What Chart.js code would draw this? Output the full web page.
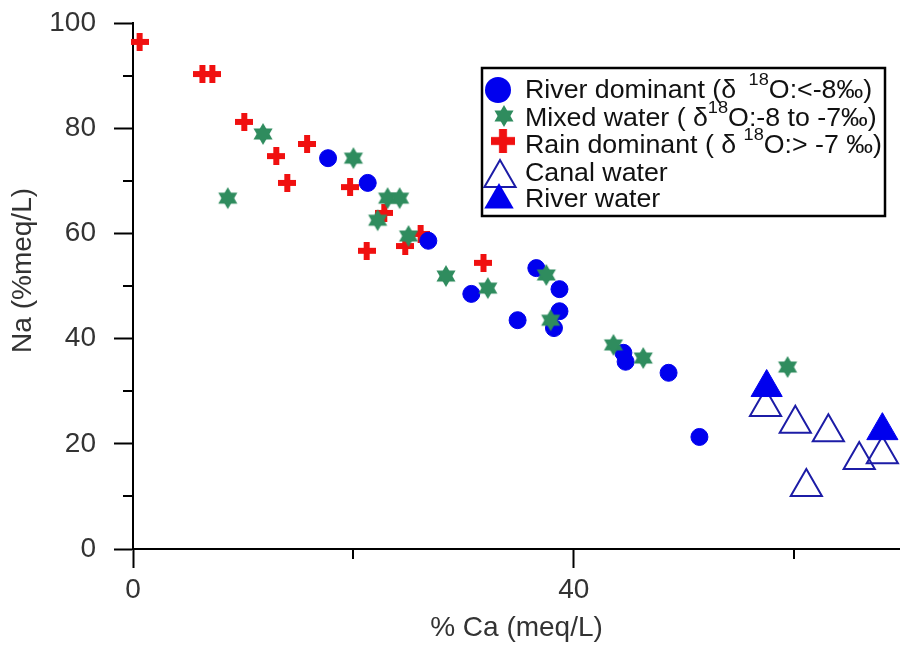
<!DOCTYPE html>
<html>
<head>
<meta charset="utf-8">
<title>Na vs Ca</title>
<script src="https://cdn.jsdelivr.net/npm/chart.js@4.4.1/dist/chart.umd.min.js"></script>
<style>
  html, body { margin: 0; padding: 0; background: #fff; }
  #wrap { width: 900px; height: 647px; }
</style>
</head>
<body>
<div id="wrap"><canvas id="myChart" width="900" height="647"></canvas></div>
<script>
//////////////// DATA /////////////////////////////////
// River dominant (d18O < -8 permil)
var riverDomX = [17.7, 21.3, 26.8, 30.7, 34.9, 36.6, 38.7, 38.7, 38.2, 44.5, 44.7, 48.6, 51.4];
var riverDomY = [74.3, 69.6, 58.6, 48.5, 43.5, 53.4, 49.4, 45.2, 42.0, 37.3, 35.6, 33.5, 21.3];

// Mixed water (d18O -8 to -7 permil)
var mixedX = [8.6, 11.8, 20.0, 23.1, 24.2, 22.2, 25.0, 28.4, 32.2, 37.5, 37.9, 43.6, 46.3, 59.4];
var mixedY = [66.7, 78.9, 74.3, 66.7, 66.7, 62.5, 59.5, 51.9, 49.6, 52.1, 43.5, 38.8, 36.3, 34.6];

// Rain dominant (d18O > -7 permil)
var rainX = [0.6, 6.3, 7.2, 10.1, 13.0, 15.8, 14.0, 19.7, 21.2, 22.8, 24.7, 26.1, 31.8];
var rainY = [96.4, 90.3, 90.3, 81.2, 74.7, 77.0, 69.6, 68.8, 56.7, 63.9, 57.6, 59.9, 54.4];

// Canal water
var canalX = [57.4, 60.1, 63.1, 65.9, 68.0, 61.1];
var canalY = [27.0, 23.8, 22.2, 16.9, 18.0, 11.8];

// River water
var riverWX = [57.5, 68.0];
var riverWY = [30.7, 22.5];

// axis ticks
var xMajor = [0, 40];
var xMinor = [20, 60];
var yMajor = [0, 20, 40, 60, 80, 100];
var yMinor = [10, 30, 50, 70, 90];

var legendLines = [
  [['River dominant (\u03b4 ', 0], [' 18', 1], ['O:<-8\u2030)', 0]],
  [['Mixed water ( \u03b4', 0], ['18', 1], ['O:-8 to -7\u2030)', 0]],
  [['Rain dominant ( \u03b4 ', 0], ['18', 1], ['O:> -7 \u2030)', 0]],
  [['Canal water', 0]],
  [['River water', 0]]
];

//////////////// MARKERS /////////////////////////////////
var BLUE = '#0000ee';
var NAVY = '#1c1ca6';
var GREEN = '#2f8c5e';
var RED = '#f01010';

function toPts(xs, ys) {
  return xs.map(function (x, i) { return {x: x, y: ys[i]}; });
}

// six pointed star (two triangles)
function makeStar(r) {
  var c = document.createElement('canvas');
  c.width = c.height = Math.ceil(r * 2 + 2);
  var g = c.getContext('2d');
  var cx = c.width / 2, cy = c.height / 2;
  g.fillStyle = GREEN;
  [0, Math.PI].forEach(function (off) {
    g.beginPath();
    for (var k = 0; k < 3; k++) {
      var a = off + k * 2 * Math.PI / 3;
      var px = cx + Math.sin(a) * r, py = cy - Math.cos(a) * r;
      if (k === 0) g.moveTo(px, py); else g.lineTo(px, py);
    }
    g.closePath();
    g.fill();
  });
  return c;
}

// thick plus sign
function makePlus(size, arm) {
  var c = document.createElement('canvas');
  c.width = c.height = size;
  var g = c.getContext('2d');
  g.fillStyle = RED;
  var o = (size - arm) / 2;
  g.fillRect(o, 0, arm, size);
  g.fillRect(0, o, size, arm);
  return c;
}

var starImg = makeStar(11);
var plusImg = makePlus(18, 6);

//////////////// PLUGINS /////////////////////////////////
var minorTicks = {
  id: 'minorTicks',
  afterDraw: function (chart) {
    var ctx = chart.ctx, x = chart.scales.x, y = chart.scales.y;
    ctx.save();
    ctx.strokeStyle = '#000';
    ctx.lineWidth = 2;
    ctx.beginPath();
    xMinor.forEach(function (v) {
      var px = Math.round(x.getPixelForValue(v));
      ctx.moveTo(px, x.top);
      ctx.lineTo(px, x.top + 10);
    });
    yMinor.forEach(function (v) {
      var py = Math.round(y.getPixelForValue(v));
      ctx.moveTo(y.right - 10, py);
      ctx.lineTo(y.right, py);
    });
    ctx.stroke();
    ctx.restore();
  }
};

function triPath(ctx, cx, cy, r) {
  ctx.beginPath();
  for (var k = 0; k < 3; k++) {
    var a = k * 2 * Math.PI / 3;
    var px = cx + Math.sin(a) * r, py = cy - Math.cos(a) * r;
    if (k === 0) ctx.moveTo(px, py); else ctx.lineTo(px, py);
  }
  ctx.closePath();
}

var boxLegend = {
  id: 'boxLegend',
  afterDraw: function (chart) {
    var ctx = chart.ctx;
    ctx.save();
    // frame
    ctx.fillStyle = '#fff';
    ctx.fillRect(482, 68, 403, 148);
    ctx.strokeStyle = '#000';
    ctx.lineWidth = 2.5;
    ctx.strokeRect(482, 68, 403, 148);

    // symbols
    ctx.fillStyle = BLUE;
    ctx.beginPath();
    ctx.arc(498, 90, 13, 0, Math.PI * 2);
    ctx.fill();
    ctx.drawImage(starImg, 504 - 12, 116 - 12, 24, 24);
    ctx.drawImage(plusImg, 503 - 12, 141 - 12, 24, 24);
    triPath(ctx, 500, 178, 18);
    ctx.strokeStyle = NAVY;
    ctx.lineWidth = 2;
    ctx.stroke();
    triPath(ctx, 499, 200, 17);
    ctx.fillStyle = BLUE;
    ctx.fill();

    // texts
    var baselines = [98, 126, 153, 181, 207];
    ctx.fillStyle = '#111';
    ctx.textBaseline = 'alphabetic';
    ctx.textAlign = 'left';
    legendLines.forEach(function (parts, i) {
      var cx = 525;
      parts.forEach(function (p) {
        ctx.font = p[1] ? '17px "Liberation Sans"' : '25px "Liberation Sans"';
        var yy = p[1] ? baselines[i] - 13 : baselines[i];
        ctx.save();
        ctx.translate(cx, yy);
        ctx.scale(1.07, 1);
        ctx.fillText(p[0], 0, 0);
        ctx.restore();
        cx += ctx.measureText(p[0]).width * 1.07;
      });
    });
    ctx.restore();
  }
};

// no automatic label overflow padding, the layout padding does it
function noPad(s) {
  s.paddingTop = 0;
  s.paddingBottom = 0;
  s.paddingLeft = 0;
  s.paddingRight = 0;
}

//////////////// CHART /////////////////////////////////
Chart.defaults.font.family = '"Liberation Sans", Arial, sans-serif';

var ctx = document.getElementById('myChart').getContext('2d');
var chart = new Chart(ctx, {
  type: 'scatter',
  data: {
    datasets: [
      {
        label: 'Mixed water',
        data: toPts(mixedX, mixedY),
        pointStyle: starImg,
        pointRadius: 10,
        order: 1,
        clip: false
      },
      {
        label: 'River dominant',
        data: toPts(riverDomX, riverDomY),
        pointStyle: 'circle',
        pointRadius: 8.5,
        backgroundColor: BLUE,
        borderColor: BLUE,
        borderWidth: 1,
        order: 2,
        clip: false
      },
      {
        label: 'Rain dominant',
        data: toPts(rainX, rainY),
        pointStyle: plusImg,
        pointRadius: 9,
        order: 3,
        clip: false
      },
      {
        label: 'River water',
        data: toPts(riverWX, riverWY),
        pointStyle: 'triangle',
        pointRadius: 18,
        backgroundColor: BLUE,
        borderColor: BLUE,
        borderWidth: 1,
        order: 4,
        clip: false
      },
      {
        label: 'Canal water',
        data: toPts(canalX, canalY),
        pointStyle: 'triangle',
        pointRadius: 18,
        backgroundColor: 'rgba(0,0,0,0)',
        borderColor: NAVY,
        borderWidth: 2,
        order: 5,
        clip: false
      }
    ]
  },
  options: {
    responsive: false,
    animation: false,
    devicePixelRatio: 1,
    layout: { autoPadding: false, padding: { top: 23, right: 0, bottom: 0, left: 0 } },
    plugins: {
      legend: { display: false },
      tooltip: { enabled: false }
    },
    scales: {
      x: {
        type: 'linear',
        min: 0,
        max: 69.6,
        afterFit: function (s) { s.height = 98; noPad(s); },
        afterBuildTicks: function (s) { s.ticks = xMajor.map(function (v) { return {value: v}; }); },
        ticks: {
          includeBounds: false,
          color: '#333',
          padding: 5,
          font: { size: 28 }
        },
        grid: { drawOnChartArea: false, tickLength: 19, tickColor: '#000', tickWidth: 2 },
        border: { color: '#000', width: 2 },
        title: {
          display: true,
          text: '% Ca (meq/L)',
          color: '#333',
          font: { size: 28 },
          padding: { top: 0, bottom: 2 }
        }
      },
      y: {
        min: 0,
        max: 100,
        afterFit: function (s) { s.width = 133; noPad(s); },
        afterBuildTicks: function (s) { s.ticks = yMajor.map(function (v) { return {value: v}; }); },
        ticks: {
          color: '#333',
          padding: 18,
          font: { size: 28 }
        },
        grid: { drawOnChartArea: false, tickLength: 19, tickColor: '#000', tickWidth: 2 },
        border: { color: '#000', width: 2 },
        title: {
          display: true,
          text: '    Na (%meq/L)',
          color: '#333',
          font: { size: 28 },
          padding: { top: 6, bottom: 0 }
        }
      }
    }
  },
  plugins: [minorTicks, boxLegend]
});
</script>
</body>
</html>
